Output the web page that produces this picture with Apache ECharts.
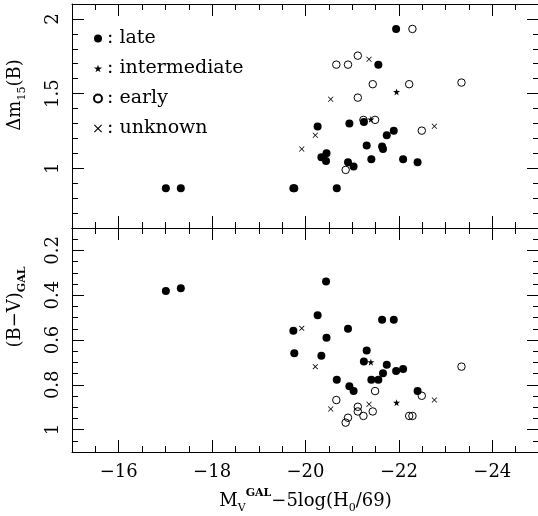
<!DOCTYPE html>
<html>
<head>
<meta charset="utf-8">
<script src="https://cdn.jsdelivr.net/npm/echarts@6/dist/echarts.min.js"></script>
<style>
html,body{margin:0;padding:0;background:#fff;}
#c{width:538px;height:516px;}
</style>
</head>
<body>
<div id="c"></div>
<script>
// ---- data ----
const seriesNames = ['late', 'intermediate', 'early', 'unknown'];

const lateMV   = [-17.01, -17.33, -19.74, -19.76, -20.26, -20.34, -20.44, -20.45, -20.67, -20.91, -20.94, -21.03, -21.25, -21.31, -21.41, -21.56, -21.64, -21.66, -21.74, -21.89, -21.94, -22.09, -22.40];
const lateDm15 = [0.866, 0.866, 0.866, 0.866, 1.279, 1.074, 1.049, 1.100, 0.866, 1.040, 1.299, 1.011, 1.310, 1.152, 1.060, 1.694, 1.145, 1.129, 1.221, 1.252, 1.933, 1.060, 1.040];
const lateBV   = [0.381, 0.369, 0.559, 0.659, 0.489, 0.670, 0.339, 0.590, 0.778, 0.550, 0.807, 0.828, 0.696, 0.647, 0.778, 0.778, 0.510, 0.748, 0.710, 0.510, 0.738, 0.729, 0.828];

const interMV   = [-21.95, -21.40];
const interDm15 = [1.511, 1.328];
const interBV   = [0.880, 0.699];

const earlyMV   = [-22.29, -21.12, -20.66, -20.91, -21.44, -22.22, -23.34, -21.12, -21.24, -21.49, -22.49, -20.86];
const earlyDm15 = [1.933, 1.754, 1.694, 1.694, 1.563, 1.563, 1.574, 1.473, 1.324, 1.324, 1.252, 0.989];
const earlyBV   = [0.939, 0.898, 0.868, 0.947, 0.919, 0.939, 0.719, 0.919, 0.939, 0.828, 0.849, 0.969];

const unkMV   = [-21.36, -20.54, -20.21, -19.92, -22.76];
const unkDm15 = [1.730, 1.462, 1.221, 1.129, 1.281];
const unkBV   = [0.887, 0.908, 0.719, 0.548, 0.868];

const xTicks       = [-16, -18, -20, -22, -24];
const topYTicks    = [1, 1.5, 2];
const bottomYTicks = [0.2, 0.4, 0.6, 0.8, 1];

// ---- styling / layout ----
const FONT = 'DejaVu Serif';
const X_MIN = -25, X_MAX = -15;
const TOP_MIN = 0.6, TOP_MAX = 2.1;
const BOT_MIN = 0.1, BOT_MAX = 1.1;
const LONG = 12, SHORT = 6;

function zip(a, b) { return a.map((v, i) => [v, b[i]]); }
function fmtNum(v) {
  const s = String(Math.round(v * 100) / 100);
  return v < 0 ? '\u2212' + s.slice(1) : s;
}

const xAxes = [], yAxes = [];
const lineStyle = { color: '#000', width: 1 };

function addAxes(grid, yMin, yMax, yMinor, yTicks, inverseY, showXLabels, yName) {
  ['bottom', 'top'].forEach(pos => {
    const labeled = showXLabels && pos === 'bottom';
    xAxes.push({
      type: 'value', gridIndex: grid, position: pos, min: X_MIN, max: X_MAX, inverse: true,
      interval: 0.5,
      axisLine: { show: true, onZero: false, lineStyle },
      axisTick: { show: true, inside: true, length: SHORT, lineStyle },
      axisLabel: { show: false }, splitLine: { show: false }
    });
    const maj = {
      type: 'value', gridIndex: grid, position: pos, min: X_MIN, max: X_MAX, inverse: true,
      axisLine: { show: false, onZero: false },
      axisTick: { show: true, inside: true, length: LONG, lineStyle, customValues: xTicks },
      axisLabel: { show: labeled, customValues: xTicks, formatter: fmtNum, margin: 11,
        fontFamily: FONT, fontSize: 18, color: '#000' },
      splitLine: { show: false }
    };
    if (labeled) {
      maj.name = '{t|M}{sub|V}{sup|GAL}{t|\u22125log(H}{sub|0}{t|/69)}';
      maj.nameLocation = 'middle';
      maj.nameGap = 36;
      maj.nameTextStyle = {
        fontFamily: FONT, fontSize: 18, color: '#000',
        rich: {
          t: { fontFamily: FONT, fontSize: 18, lineHeight: 26, color: '#000' },
          sub: { fontFamily: FONT, fontSize: 11, lineHeight: 12, verticalAlign: 'bottom', color: '#000' },
          sup: { fontFamily: FONT, fontSize: 11, lineHeight: 12, verticalAlign: 'top', color: '#000', fontWeight: 'bold' }
        }
      };
    }
    xAxes.push(maj);
  });
  ['left', 'right'].forEach(pos => {
    const labeled = pos === 'left';
    yAxes.push({
      type: 'value', gridIndex: grid, position: pos, min: yMin, max: yMax, inverse: inverseY,
      interval: yMinor,
      axisLine: { show: true, onZero: false, lineStyle },
      axisTick: { show: true, inside: true, length: SHORT, lineStyle },
      axisLabel: { show: false }, splitLine: { show: false }
    });
    const maj = {
      type: 'value', gridIndex: grid, position: pos, min: yMin, max: yMax, inverse: inverseY,
      axisLine: { show: false, onZero: false },
      axisTick: { show: true, inside: true, length: LONG, lineStyle, customValues: yTicks },
      axisLabel: { show: labeled, customValues: yTicks, formatter: fmtNum, rotate: 90, margin: 10,
        fontFamily: FONT, fontSize: 18, color: '#000' },
      splitLine: { show: false }
    };
    if (labeled) {
      maj.name = yName.text;
      maj.nameLocation = 'middle';
      maj.nameGap = 44;
      maj.nameRotate = 90;
      maj.nameTextStyle = {
        fontFamily: FONT, fontSize: 18, color: '#000',
        padding: yName.padding,
        rich: {
          t: { fontFamily: FONT, fontSize: 18, lineHeight: 26, color: '#000' },
          sub: { fontFamily: FONT, fontSize: 11, lineHeight: 12, verticalAlign: 'bottom', color: '#000', fontWeight: yName.subBold ? 'bold' : 'normal' }
        }
      };
    }
    yAxes.push(maj);
  });
}

addAxes(0, TOP_MIN, TOP_MAX, 0.1, topYTicks, false, false,
  { text: '{t|\u0394m}{sub|15}{t|(B)}', padding: [0, 0, 0, 42], subBold: false });
addAxes(1, BOT_MIN, BOT_MAX, 0.05, bottomYTicks, true, true,
  { text: '{t|(B\u2212V)}{sub|GAL}', padding: [0, 0, 0, 66], subBold: true });

// axes indices: grid0 x: 0..3, y: 0..3 ; grid1 x: 4..7, y: 4..7
const STAR = 'path://M5,0 L6.2,3.6 L10,3.6 L6.9,5.9 L8.1,9.5 L5,7.3 L1.9,9.5 L3.1,5.9 L0,3.6 L3.8,3.6 Z';
const CROSS = 'path://M0,1 L1,0 L5,4 L9,0 L10,1 L6,5 L10,9 L9,10 L5,6 L1,10 L0,9 L4,5 Z';

const styles = {
  late: { symbol: 'circle', symbolSize: 8, itemStyle: { color: '#000', opacity: 1 } },
  intermediate: { symbol: STAR, symbolSize: 7, itemStyle: { color: '#000', opacity: 1 } },
  early: { symbol: 'circle', symbolSize: 7.5, itemStyle: { color: 'rgba(0,0,0,0)', borderColor: '#000', borderWidth: 1, opacity: 1 } },
  unknown: { symbol: CROSS, symbolSize: 5.5, itemStyle: { color: '#000', opacity: 1 } }
};

const sets = [
  ['late', lateMV, lateDm15, lateBV],
  ['intermediate', interMV, interDm15, interBV],
  ['early', earlyMV, earlyDm15, earlyBV],
  ['unknown', unkMV, unkDm15, unkBV]
];

const series = [];
sets.forEach(([name, mv, dm, bv]) => {
  const st = styles[name];
  series.push(Object.assign({ type: 'scatter', name, xAxisIndex: 0, yAxisIndex: 0, data: zip(mv, dm), emphasis: { disabled: true } }, st));
  series.push(Object.assign({ type: 'scatter', name, xAxisIndex: 4, yAxisIndex: 4, data: zip(mv, bv), emphasis: { disabled: true } }, st));
});

const chart = echarts.init(document.getElementById('c'), null, { renderer: 'canvas' });
chart.setOption({
  animation: false,
  backgroundColor: '#fff',
  grid: [
    { left: 72, right: -1, top: 4, height: 224, containLabel: false, outerBoundsMode: 'none' },
    { left: 72, right: -1, top: 228, height: 224, containLabel: false, outerBoundsMode: 'none' }
  ],
  legend: {
    data: seriesNames, orient: 'vertical', left: 88, top: 24,
    itemWidth: 8, itemHeight: 8, itemGap: 11,
    formatter: n => ': ' + n,
    textStyle: { fontFamily: FONT, fontSize: 19, lineHeight: 19, color: '#000' },
    selectedMode: false
  },
  xAxis: xAxes,
  yAxis: yAxes,
  series
});
</script>
</body>
</html>
